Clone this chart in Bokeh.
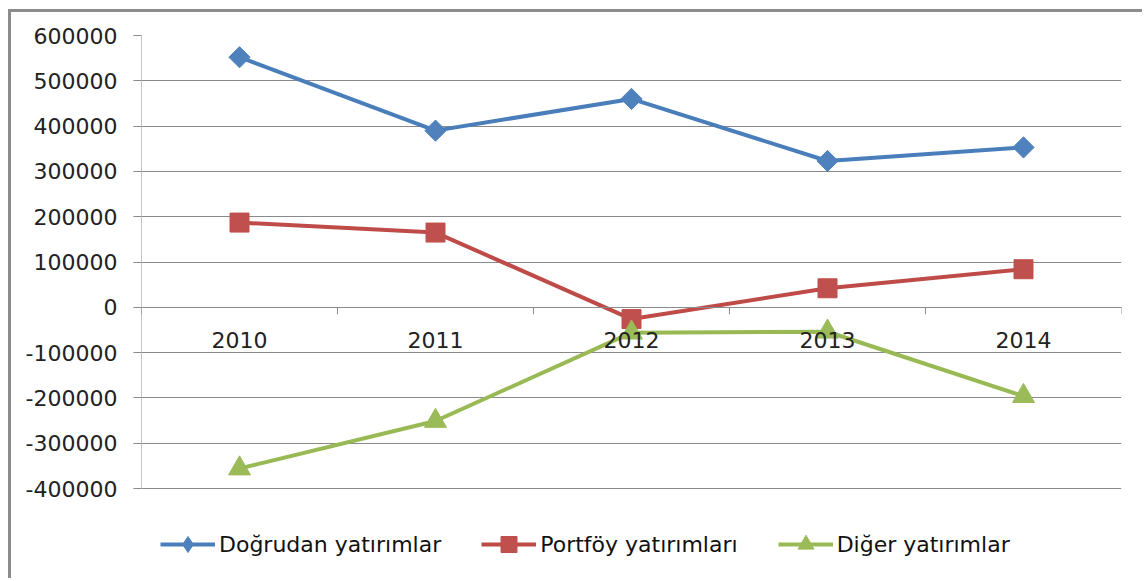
import math
from bokeh.plotting import figure
from bokeh.models import (ColumnDataSource, FactorRange, Range1d, CategoricalAxis,
                          LinearAxis, FixedTicker, NumeralTickFormatter, Legend, LegendItem, Grid)
from bokeh.embed import file_html
from bokeh.resources import INLINE

years = ["2010", "2011", "2012", "2013", "2014"]
dogrudan = [552000, 390000, 460000, 323000, 353000]
portfoy = [187000, 165000, -26000, 42000, 84000]
diger = [-356000, -251000, -56000, -54000, -196000]

names = ["Doğrudan yatırımlar", "Portföy yatırımları", "Diğer yatırımlar"]
line_colors = ["#4A7EBB", "#BE4B48", "#98B954"]
fill_colors = ["#4F81BD", "#C0504D", "#9BBB59"]
Y_MIN, Y_MAX, Y_STEP = -400000, 600000, 100000
y_ticks = list(range(Y_MIN, Y_MAX + 1, Y_STEP))

FONT = "DejaVu Sans"
GRAY = "#8a8a8a"

# layout (pixels)
W, H = 1134, 569
LEFT, RIGHT, TOP = 130, 24, 23
AXIS_PX = 453            # pixel height of the value span Y_MIN..Y_MAX
frame_h = H - TOP
y_start = Y_MAX - (Y_MAX - Y_MIN) * frame_h / AXIS_PX

p = figure(width=W, height=H, x_range=FactorRange(*years),
           y_range=Range1d(y_start, Y_MAX), output_backend="svg",
           toolbar_location=None, x_axis_type=None, y_axis_type=None,
           min_border_left=LEFT, min_border_right=RIGHT, min_border_top=TOP,
           min_border_bottom=0,
           styles={"margin-left": "8px", "margin-top": "9px",
                   "border-left": "3px solid #8c8c8c", "border-top": "3px solid #8c8c8c"})
p.outline_line_color = None
p.background_fill_color = "white"
p.border_fill_color = "white"

# y axis (line drawn separately so it stops at Y_MIN)
yax = LinearAxis(ticker=FixedTicker(ticks=y_ticks), formatter=NumeralTickFormatter(format="0"))
yax.axis_line_color = None
yax.major_tick_line_color = GRAY
yax.major_tick_in = 0
yax.major_tick_out = 8
yax.minor_tick_line_color = None
yax.major_label_standoff = 16
yax.major_label_text_font = FONT
yax.major_label_text_font_size = "22px"
yax.major_label_text_color = "#222222"
p.add_layout(yax, "left")

p.add_layout(Grid(dimension=1, ticker=yax.ticker, grid_line_color=GRAY, grid_line_width=1))

p.segment(x0=[(years[0], -0.5)], y0=[Y_MIN], x1=[(years[0], -0.5)], y1=[Y_MAX],
          line_color=GRAY, line_width=1)

# category axis at zero
xax = CategoricalAxis(fixed_location=0)
xax.axis_line_color = GRAY
xax.major_tick_line_color = None
xax.major_tick_in = 0
xax.major_tick_out = 0
xax.major_label_standoff = 25
xax.major_label_text_font = FONT
xax.major_label_text_font_size = "22px"
xax.major_label_text_color = "#222222"
p.add_layout(xax, "below")

# boundary tick marks on category axis
bounds = [(y, -0.5) for y in years] + [(years[-1], 0.5)]
p.ray(x=bounds, y=[0] * len(bounds), length=7, length_units="screen",
      angle=-math.pi / 2, line_color=GRAY, line_width=1)

items = []
series = [dogrudan, portfoy, diger]
markers = [("square", 15, math.pi / 4), ("square", 19, 0), ("triangle", 22, 0)]
legend_markers = ["diamond", "square", "triangle"]
for name, vals, lc, fc, (mk, sz, ang), lmk in zip(names, series, line_colors, fill_colors,
                                                   markers, legend_markers):
    src = ColumnDataSource(dict(x=years, y=vals))
    r1 = p.line("x", "y", source=src, line_color=lc, line_width=4)
    r2 = p.scatter("x", "y", source=src, marker=mk, size=sz, angle=ang,
                   fill_color=fc, line_color=fc, line_width=1)
    if lmk != mk or ang != 0:
        r3 = p.scatter("x", "y", source=src, marker=lmk, size=sz,
                       fill_color=fc, line_color=fc, line_width=1, visible=False)
        items.append(LegendItem(label=name, renderers=[r1, r3]))
    else:
        items.append(LegendItem(label=name, renderers=[r1, r2]))

legend = Legend(items=items, orientation="horizontal", location=(19, 17),
                glyph_width=55, glyph_height=40, label_standoff=4, spacing=40,
                padding=0, margin=0, border_line_color=None, background_fill_alpha=0,
                label_text_font=FONT, label_text_font_size="22px",
                label_text_color="#111111")
p.add_layout(legend, "center")

open("out.html", "w").write(file_html(p, INLINE))
